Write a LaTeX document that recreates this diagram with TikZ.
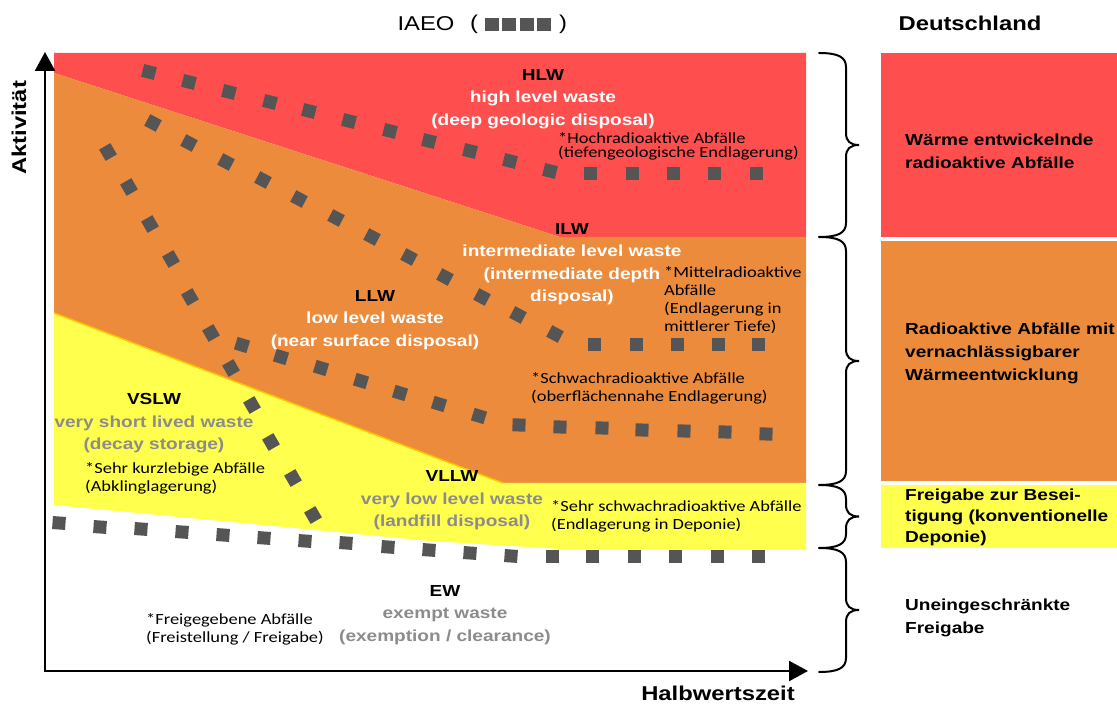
\documentclass[tikz,border=0pt]{standalone}
\usepackage{fontspec}
\setmainfont{Liberation Sans}[FakeStretch=1.19]
\newfontfamily\calfont{Carlito}[FakeStretch=1.19]
\usetikzlibrary{arrows.meta}
\definecolor{cRed}{RGB}{254,78,78}
\definecolor{cOrange}{RGB}{237,139,61}
\definecolor{cYellow}{RGB}{255,255,77}
\definecolor{cSq}{RGB}{85,85,85}
\definecolor{cGray}{RGB}{140,140,140}
\definecolor{cEdge}{RGB}{255,196,0}
\newcommand\sqrow[2]{\foreach \px/\py in {#2} {\fill[sq, shift={(\px,\py)}, rotate=#1] (-6.5,-6.5) rectangle (6.5,6.5);}}
\newcommand\mybrace[2]{%
  \pgfmathsetmacro\bm{(#1+#2)/2}%
  \draw[bracestyle] (819,#1) .. controls (838,#1) and (846,#1+4) .. (846,#1+14)
    -- (846,\bm-12) .. controls (846,\bm-4) and (850,\bm) .. (859,\bm)
    .. controls (850,\bm) and (846,\bm+4) .. (846,\bm+12)
    -- (846,#2-14) .. controls (846,#2-4) and (838,#2) .. (819,#2);}
\begin{document}
\begin{tikzpicture}[x=1pt,y=-1pt,
  lab/.style={font=\bfseries\fontsize{16}{22.5}\selectfont, align=center, inner sep=0pt},
  note/.style={font=\calfont\fontsize{15.5}{18}\selectfont, align=left, anchor=west, inner sep=0pt},
  de/.style={font=\bfseries\fontsize{16}{23}\selectfont, align=left, anchor=west, inner sep=0pt},
  ttl/.style={font=\fontsize{20}{24}\selectfont, inner sep=0pt},
  ttlb/.style={font=\bfseries\fontsize{20}{24}\selectfont, inner sep=0pt},
  axisline/.style={line width=2.5pt, line join=miter, {Triangle[length=19pt,width=20pt]}-{Triangle[length=19pt,width=20pt]}},
  bracestyle/.style={line width=2pt, line cap=round},
  sq/.style={fill=cSq}]
\useasboundingbox (0,0) rectangle (1117,708);
\fill[white] (0,0) rectangle (1117,708);
% chart regions
\fill[cRed] (54,53) -- (806,53) -- (806,237) -- (560,237) -- (54,73) -- cycle;
\fill[cOrange] (54,73) -- (560,237) -- (806,237) -- (806,483) -- (503,483) -- (54,313) -- cycle;
\fill[cYellow] (54,313) -- (503,483) -- (806,483) -- (806,549) -- (560,549) -- (430,541) -- (54,505) -- cycle;
\draw[cEdge, line width=1.5pt] (54,313) -- (503,483);
% right panel
\fill[cRed] (881,53) rectangle (1117,237);
\fill[cOrange] (881,241) rectangle (1117,481);
\fill[cYellow] (881,485) rectangle (1117,548);
% IAEO square lines
\sqrow{-14}{149/72,189/82,229/92,270/102,309/111,349/121,390/131,429/141,470/151,510/161,550/171}
\sqrow{0}{590/174,632/174,673/174,714/174,756/174}
\sqrow{-28}{153/123,189/143,226/162,263/180,299/199,336/218,372/237,409/257,445/277,482/297,518/315,555/334}
\sqrow{0}{594/345,636/345,677/345,718/345,758/345}
\sqrow{-60}{108/152,129/187,150/224,171/259,190/297,211/333,231/368,252/405,271/442,293/478,313/515}
\sqrow{-17}{242/345,281/357,321/368,361/381,400/393,439/404,479/416}
\sqrow{-2}{519/425,560/427,602/428,642/430,684/431,725/432,766/434}
\sqrow{-4}{59/523,100/527,141/529,182/532,223/535,264/538,305/541,346/543,388/547,429/550,470/553,511/556}
\sqrow{0}{552/556,592/556,634/556,675/556,717/556,758/556}
% axes
\coordinate (orig) at (45,671);
\coordinate (ytip) at (45,52);
\coordinate (xtip) at (808,671);
\draw[axisline] (ytip) -- (orig) -- (xtip);
% braces
\mybrace{53}{237}
\mybrace{237}{485}
\mybrace{485}{548}
\mybrace{548}{672}
% titles
\node[ttl] (iaeo) at (426,24) {IAEO};
\node[ttl] (lpar) at (474,24) {(};
\node[ttl] (rpar) at (563,24) {)};
\foreach \cx in {491.5,509,526.5,544} {\fill[sq] (\cx-7,18.5) rectangle (\cx+7,31.5);}
\node[ttlb] (deutsch) at (970,23) {Deutschland};
\node[ttlb] (hwz) at (718,693) {Halbwertszeit};
\node[ttlb, rotate=90] (akt) at (19,128) {Aktivität};
% labels
\node[lab, text=white] (hlw) at (543,99) {\textcolor{black}{HLW}\\high level waste\\(deep geologic disposal)};
\node[note, font=\calfont\fontsize{15.5}{13.5}\selectfont] (hlwde) at (558,146.5) {*Hochradioaktive Abfälle\\(tiefengeologische Endlagerung)};
\node[lab, text=white] (ilw) at (572,264) {\textcolor{black}{ILW}\\intermediate level waste\\(intermediate depth\\disposal)};
\node[note] (ilwde) at (664,300) {*Mittelradioaktive\\Abfälle\\(Endlagerung in\\mittlerer Tiefe)};
\node[lab, text=white] (llw) at (375,320) {\textcolor{black}{LLW}\\low level waste\\(near surface disposal)};
\node[note] (llwde) at (531,388) {*Schwachradioaktive Abfälle\\(oberflächennahe Endlagerung)};
\node[lab, text=cGray] (vslw) at (154,423.5) {\textcolor{black}{VSLW}\\very short lived waste\\(decay storage)};
\node[note] (vslwde) at (85,478) {*Sehr kurzlebige Abfälle\\(Abklinglagerung)};
\node[lab, text=cGray] (vllw) at (452,500.5) {\textcolor{black}{VLLW}\\very low level waste\\(landfill disposal)};
\node[note] (vllwde) at (551,516) {*Sehr schwachradioaktive Abfälle\\(Endlagerung in Deponie)};
\node[lab, text=cGray] (ew) at (445,615) {\textcolor{black}{EW}\\exempt waste\\(exemption / clearance)};
\node[note] (ewde) at (146,629.5) {*Freigegebene Abfälle\\(Freistellung / Freigabe)};
% Deutschland column
\node[de] (d1) at (905,151.5) {Wärme entwickelnde\\radioaktive Abfälle};
\node[de] (d2) at (905,353.5) {Radioaktive Abfälle mit\\vernachlässigbarer\\Wärmeentwicklung};
\node[de, font=\bfseries\fontsize{16}{21}\selectfont] (d3) at (905,517) {Freigabe zur Besei-\\tigung (konventionelle\\Deponie)};
\node[de] (d4) at (905,618) {Uneingeschränkte\\Freigabe};
\end{tikzpicture}
\end{document}
